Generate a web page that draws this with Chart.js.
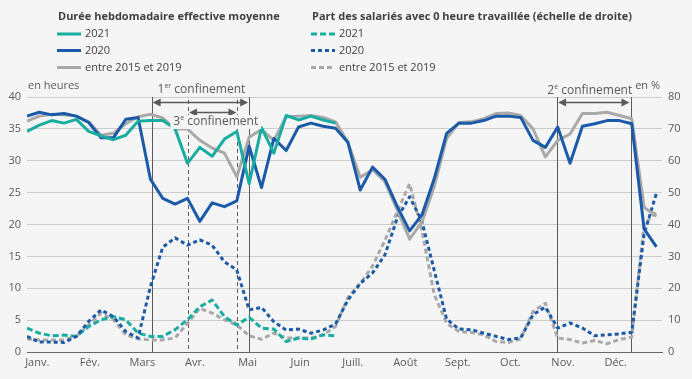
<!DOCTYPE html>
<html><head><meta charset="utf-8">
<script src="https://cdn.jsdelivr.net/npm/chart.js@4/dist/chart.umd.min.js"></script>
<style>html,body{margin:0;padding:0;background:#f5f5f5;}canvas{display:block}</style>
</head><body>
<canvas id="c" width="692" height="379"></canvas>
<script>
// ---- data (weekly, 52 weeks) ----
const months = ['Janv.','Fév.','Mars','Avr.','Mai','Juin','Juill.','Août','Sept.','Oct.','Nov.','Déc.'];
const hours2021 = [34.6,35.6,36.3,35.9,36.5,34.6,33.9,33.3,34.0,36.2,36.3,36.3,35.0,29.6,32.1,30.7,33.4,34.6,26.4,35.2,31.2,37.1,36.4,37.0,36.4,35.9];
const hours2020 = [37.0,37.6,37.2,37.4,37.0,36.0,33.6,33.6,36.5,36.8,27.1,24.1,23.2,24.1,20.5,23.4,22.8,23.7,32.3,25.8,33.5,31.6,35.3,35.9,35.4,35.1,32.9,25.4,29.0,27.1,22.8,19.0,21.5,27.2,34.3,35.9,35.9,36.3,37.0,37.0,36.8,33.2,32.1,35.3,29.6,35.4,35.8,36.3,36.3,35.8,19.3,16.5];
const hoursRef  = [36.2,37.0,37.3,37.2,37.0,36.1,34.0,34.3,35.8,36.9,37.3,36.7,35.0,35.0,33.2,32.0,31.2,27.5,33.7,34.9,33.2,36.9,37.0,37.1,36.8,36.1,32.9,27.4,28.6,26.7,22.3,17.7,20.4,26.0,33.5,36.0,36.1,36.6,37.4,37.5,37.1,35.0,30.6,33.2,34.2,37.4,37.4,37.6,37.1,36.6,22.7,21.3];
const zero2021 = [7.5,5.9,5.1,5.3,4.9,8.0,10.1,11.1,10.1,5.9,4.9,4.9,7.0,10.1,14.2,16.3,11.1,8.5,10.9,7.5,7.2,3.3,4.4,4.0,5.4,5.1];
const zero2020 = [4.9,3.1,3.1,3.0,4.9,9.6,13.2,11.1,6.4,4.4,20.5,32.9,35.8,33.5,35.2,33.5,28.3,25.7,13.2,14.0,9.5,6.9,7.2,5.9,6.9,8.8,16.3,21.5,24.8,30.5,42.0,48.7,41.0,25.5,10.3,7.2,7.0,5.9,4.9,3.9,4.4,11.7,14.1,7.5,9.1,7.5,5.1,5.4,5.7,6.2,37.0,49.8];
const zeroRef  = [4.1,3.8,3.8,3.8,4.9,8.5,12.2,10.1,5.4,4.1,3.8,3.8,4.4,9.0,13.7,12.2,10.1,8.5,5.1,4.0,5.9,4.4,4.4,4.4,5.4,8.0,17.1,21.5,27.0,35.0,44.0,52.8,38.0,18.0,9.0,6.4,6.1,5.4,3.3,3.0,4.1,12.7,15.3,4.4,3.9,2.8,3.6,2.6,3.9,4.7,40.0,44.0];
// lockdown periods in week units
const lockdownNames = [['1','er',' confinement'],['3','e',' confinement'],['2','e',' confinement']];
const lockdownStart = [10.1, 13.05, 42.95];
const lockdownEnd   = [18.0, 17.05, 48.9];

const C21 = '#19ada2', C20 = '#1b5aa8', CREF = '#a9a9a9';
const FONT = '"Open Sans", sans-serif';
const pts = arr => arr.map((v,i)=>({x:i,y:v}));

const annot = {
  id:'annot',
  beforeDraw(chart){
    const ctx = chart.ctx; ctx.save(); ctx.fillStyle='#f5f5f5'; ctx.fillRect(0,0,chart.width,chart.height); ctx.restore();
  },
  beforeDatasetsDraw(chart){
    const ctx = chart.ctx, xs = chart.scales.x, b = chart.chartArea.bottom;
    ctx.save();
    ctx.strokeStyle='#5a5a5a'; ctx.lineWidth=1;
    const styles = [[],[4,3],[]];
    const tops = [97,100,97];
    for (let k=0;k<3;k++){
      ctx.setLineDash(styles[k]);
      [lockdownStart[k], lockdownEnd[k]].forEach(v=>{
        const x = Math.round(xs.getPixelForValue(v))+0.5;
        ctx.beginPath(); ctx.moveTo(x,tops[k]); ctx.lineTo(x,b); ctx.stroke();
      });
    }
    ctx.restore();
  },
  afterDatasetsDraw(chart){
    const ctx = chart.ctx, xs = chart.scales.x;
    ctx.save();
    const arrowY = [102.5,112.5,102.5];
    const textY = [90,122,91];
    const dx = [1,3,-4];
    for (let k=0;k<3;k++){
      const x1 = xs.getPixelForValue(lockdownStart[k]), x2 = xs.getPixelForValue(lockdownEnd[k]);
      const y = arrowY[k];
      ctx.strokeStyle='#5a5a5a'; ctx.fillStyle='#5a5a5a'; ctx.lineWidth=1.5; ctx.setLineDash([]);
      ctx.beginPath(); ctx.moveTo(x1+6,y); ctx.lineTo(x2-6,y); ctx.stroke();
      ctx.beginPath(); ctx.moveTo(x1+1,y); ctx.lineTo(x1+9,y-4); ctx.lineTo(x1+9,y+4); ctx.closePath(); ctx.fill();
      ctx.beginPath(); ctx.moveTo(x2-1,y); ctx.lineTo(x2-9,y-4); ctx.lineTo(x2-9,y+4); ctx.closePath(); ctx.fill();
      // label
      const [a,sup,rest] = lockdownNames[k];
      ctx.font = '12px '+FONT; const wa = ctx.measureText(a).width, wr = ctx.measureText(rest).width;
      ctx.font = '7px '+FONT; const ws = ctx.measureText(sup).width;
      const tw = wa+ws+wr; const cx = (x1+x2)/2 + dx[k]; let x = cx - tw/2; const ty = textY[k];
      if (k===1){ ctx.fillStyle='#f5f5f5'; ctx.fillRect(x-3, ty-7, tw+6, 14); }
      ctx.fillStyle='#595959'; ctx.textBaseline='middle'; ctx.textAlign='left';
      ctx.font='12px '+FONT; ctx.fillText(a,x,ty); x+=wa;
      ctx.font='7px '+FONT; ctx.fillText(sup,x,ty-4); x+=ws;
      ctx.font='12px '+FONT; ctx.fillText(rest,x,ty);
    }
    // axis units
    ctx.font='11px '+FONT; ctx.fillStyle='#595959'; ctx.textBaseline='middle';
    ctx.textAlign='left'; ctx.fillText('en heures',28,86);
    ctx.textAlign='right'; ctx.fillText('en %',660,86);
    // legend
    ctx.textAlign='left';
    ctx.font='700 11px '+FONT; ctx.fillStyle='#404040';
    ctx.fillText('Durée hebdomadaire effective moyenne',58,17);
    ctx.fillText('Part des salariés avec 0 heure travaillée (échelle de droite)',312,17);
    const rowsY=[34,50.5,67.5], labels=['2021','2020','entre 2015 et 2019'], cols=[C21,C20,CREF], dashes=[[6,3],[4,3],[5,3]];
    ctx.font='11px '+FONT;
    for(let r=0;r<3;r++){
      ctx.strokeStyle=cols[r]; ctx.lineWidth=3;
      ctx.setLineDash([]); ctx.beginPath(); ctx.moveTo(57,rowsY[r]); ctx.lineTo(81,rowsY[r]); ctx.stroke();
      ctx.setLineDash(dashes[r]); ctx.beginPath(); ctx.moveTo(311,rowsY[r]); ctx.lineTo(335,rowsY[r]); ctx.stroke();
      ctx.setLineDash([]);
      ctx.fillStyle='#404040'; ctx.fillText(labels[r],85,rowsY[r]); ctx.fillText(labels[r],339,rowsY[r]);
    }
    ctx.restore();
  }
};

const line = (data, color, axis, dash, order) => ({
  data: pts(data), borderColor: color, backgroundColor: color, borderWidth: 3,
  borderDash: dash, pointRadius: 0, tension: 0, fill: false, yAxisID: axis, order,
  borderJoinStyle: 'round', borderCapStyle: 'butt', spanGaps: false
});

new Chart(document.getElementById('c'), {
  type: 'line',
  data: { datasets: [
    line(zeroRef, CREF, 'y2', [5,3], 6),
    line(zero2021, C21, 'y2', [6,3], 5),
    line(zero2020, C20, 'y2', [4,3], 4),
    line(hoursRef, CREF, 'y', [], 3),
    line(hours2020, C20, 'y', [], 2),
    line(hours2021, C21, 'y', [], 1)
  ]},
  options: {
    responsive: false, animation: false, devicePixelRatio: 1,
    layout: { padding: { top: 97, left: 0, right: 0, bottom: 0 } },
    plugins: { legend: { display: false }, tooltip: { enabled: false } },
    scales: {
      x: { type: 'linear', min: 0, max: 51.45,
        grid: { display: false, drawTicks: false },
        border: { display: true, color: '#666', width: 1 },
        afterBuildTicks: s => { s.ticks = months.map((m,k)=>({ value: 0.83 + 4.26*k })); },
        ticks: { autoSkip: false, maxRotation: 0, padding: 4, color: '#595959', font: { family: FONT, size: 11 },
          callback: (v, i) => months[i] },
        afterFit: s => { s.height = 27; } },
      y: { position: 'left', min: 0, max: 40,
        ticks: { stepSize: 5, padding: 6, color: '#595959', font: { family: FONT, size: 11 } },
        grid: { color: '#cccccc', lineWidth: 1, drawTicks: false },
        border: { display: false },
        afterFit: s => { s.width = 27; } },
      y2: { position: 'right', min: 0, max: 80,
        ticks: { stepSize: 10, padding: 6, color: '#595959', font: { family: FONT, size: 11 } },
        grid: { display: false, drawTicks: false },
        border: { display: false },
        afterFit: s => { s.width = 30; } }
    }
  },
  plugins: [annot]
});
</script>
</body></html>
